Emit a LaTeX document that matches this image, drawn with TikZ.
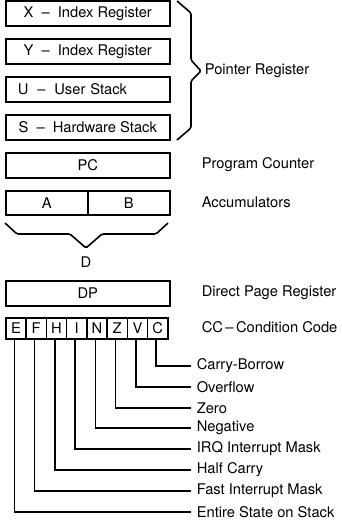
\documentclass[tikz,border=0pt]{standalone}
\usepackage{fontspec}
\setmainfont{TeX Gyre Heros}
\usetikzlibrary{calc}
\newcommand{\wdash}{\hspace{4pt} -- \hspace{4pt}}
\begin{document}
\begin{tikzpicture}[x=1pt,y=-1pt,
  font=\fontsize{14.7}{17}\selectfont,
  line width=1.6pt,
  regbox/.style={draw, minimum height=25pt, minimum width=164pt, inner sep=0pt, anchor=north west},
  halfbox/.style={draw, minimum height=24pt, minimum width=82pt, inner sep=0pt, anchor=north west},
  ccbox/.style={draw, minimum height=21pt, minimum width=20.25pt, inner sep=0pt, anchor=north west},
  sidelbl/.style={anchor=west, inner sep=0pt},
  bitlbl/.style={anchor=west, inner xsep=5pt, inner ysep=0pt},
  bitline/.style={line width=1.6pt},
  brace/.style={line width=1.6pt, rounded corners=1.5pt}
]
\useasboundingbox (0,0) rectangle (341,523);

% pointer registers
\node[regbox] (X) at (5,0) {X\wdash Index Register};
\node[regbox] (Y) at (5,38) {Y\wdash Index Register};
\node[regbox, text width=140pt, minimum width=0pt, inner xsep=12pt, align=left] (U) at (5,76) {U\wdash User Stack};
\node[regbox] (S) at (5,114) {S\wdash Hardware Stack};

\draw[brace] (177,1) -- (191,13) -- (191,60) -- (201,71) -- (191,81) -- (191,128) -- (177,140);
\node[sidelbl] (ptr) at (204,71) {Pointer Register};

% program counter
\node[regbox] (PC) at (5,152) {PC};
\node[sidelbl] (pcl) at (201,164.5) {Program Counter};

% accumulators
\node[halfbox] (A) at (5,190) {A};
\node[halfbox] (B) at (87,190) {B};
\node[sidelbl] (accl) at (201,202) {Accumulators};

\draw[brace] (5,223) -- (17,234) -- (70,234) -- (86,248) -- (102,234) -- (156,234) -- (168,223);
\node (D) at (86,262) {D};

% direct page
\node[regbox] (DP) at (5,280) {DP};
\node[sidelbl] (dpl) at (201,292.5) {Direct Page Register};

% condition code
\foreach \n [count=\i from 0] in {E,F,H,I,N,Z,V,C}
  \node[ccbox] (cc\n) at (5+20.25*\i,317) {\n};
\node[sidelbl] (ccl) at (201,327.5) {CC\,--\,Condition Code};

\node[bitlbl] (lC) at (191,366) {Carry-Borrow};
\node[bitlbl] (lV) at (191,387) {Overflow};
\node[bitlbl] (lZ) at (191,408) {Zero};
\node[bitlbl] (lN) at (191,428) {Negative};
\node[bitlbl] (lI) at (191,449) {IRQ Interrupt Mask};
\node[bitlbl] (lH) at (191,470) {Half Carry};
\node[bitlbl] (lF) at (191,491) {Fast Interrupt Mask};
\node[bitlbl] (lE) at (191,512) {Entire State on Stack};

\foreach \n in {E,F,H,I,N,Z,V,C}
  \draw[bitline] ([xshift=-1.5pt]cc\n.south) |- (l\n.west);
\end{tikzpicture}
\end{document}
